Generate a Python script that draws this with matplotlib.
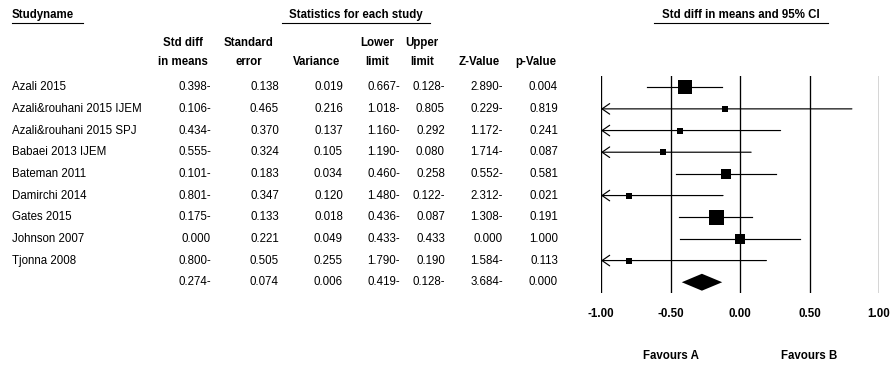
import numpy as np
import matplotlib.pyplot as plt
from matplotlib import font_manager
from matplotlib.lines import Line2D
from matplotlib.transforms import blended_transform_factory

studies = ['Azali 2015', 'Azali&rouhani 2015 IJEM', 'Azali&rouhani 2015 SPJ',
           'Babaei 2013 IJEM', 'Bateman 2011', 'Damirchi 2014', 'Gates 2015',
           'Johnson 2007', 'Tjonna 2008', '']
std_diff = [-0.398, -0.106, -0.434, -0.555, -0.101, -0.801, -0.175, 0.000, -0.800, -0.274]
std_err = [0.138, 0.465, 0.370, 0.324, 0.183, 0.347, 0.133, 0.221, 0.505, 0.074]
variance = [0.019, 0.216, 0.137, 0.105, 0.034, 0.120, 0.018, 0.049, 0.255, 0.006]
lower = [-0.667, -1.018, -1.160, -1.190, -0.460, -1.480, -0.436, -0.433, -1.790, -0.419]
upper = [-0.128, 0.805, 0.292, 0.080, 0.258, -0.122, 0.087, 0.433, 0.190, -0.128]
z_value = [-2.890, -0.229, -1.172, -1.714, -0.552, -2.312, -1.308, 0.000, -1.584, -3.684]
p_value = [0.004, 0.819, 0.241, 0.087, 0.581, 0.021, 0.191, 1.000, 0.113, 0.000]
x_ticks = [-1.0, -0.5, 0.0, 0.5, 1.0]

names = {f.name for f in font_manager.fontManager.ttflist}
if 'Liberation Sans Narrow' in names:
    FONT, FS = 'Liberation Sans Narrow', 9.5
else:
    FONT, FS = 'Liberation Sans', 8.3
plt.rcParams['font.family'] = [FONT, 'DejaVu Sans']

W, H = 891, 365
fig = plt.figure(figsize=(W / 100, H / 100), dpi=100)


def fx(x):
    return x / W


def fy(y):
    return 1 - y / H


def fmt(v):
    # the source software prints negatives with a trailing minus
    return f'{abs(v):.3f}' + ('-' if v < 0 else '')


n = len(studies)
row_h = 21.67
top = 87.2 - row_h / 2
ax = fig.add_axes([fx(601), fy(top + n * row_h), fx(879) - fx(601), n * row_h / H])
ax.set_xlim(-1, 1)
ax.set_ylim(n - 0.5, -0.5)
for s in ax.spines.values():
    s.set_visible(False)
ax.set_yticks([])
ax.set_xticks(x_ticks)
ax.set_xticklabels([f'{t:.2f}' for t in x_ticks], fontweight='bold', fontsize=FS)
ax.tick_params(axis='x', length=0, pad=10.5)

for t in x_ticks:
    ax.axvline(t, color='black', lw=0.95)

# study rows: CI line (arrow when clipped at -1) and weight-scaled square
w = 1 / np.array(variance[:-1])
sides = np.maximum(15 * np.sqrt(w / w.max()), 5.3)
for i in range(n - 1):
    lo = lower[i]
    if lo < -1:
        ax.annotate('', xy=(-1, i), xytext=(upper[i], i),
                    arrowprops=dict(arrowstyle='->,head_length=0.55,head_width=0.38',
                                    lw=0.85, color='black', shrinkA=0, shrinkB=0))
    else:
        ax.plot([lo, upper[i]], [i, i], color='black', lw=0.85, clip_on=False)
    ax.plot(std_diff[i], i, marker='s', color='black', markersize=sides[i] * 0.72,
            markeredgewidth=0, clip_on=False)

# summary diamond
k = n - 1
hh = 0.39
ax.fill([lower[k], std_diff[k], upper[k], std_diff[k]], [k, k - hh, k, k + hh],
        color='black', lw=0, clip_on=False)

# favours labels
tb = blended_transform_factory(ax.transData, fig.transFigure)
ax.text(-0.5, fy(356), 'Favours A', transform=tb, ha='center', va='center',
        fontweight='bold', fontsize=FS)
ax.text(0.5, fy(356), 'Favours B', transform=tb, ha='center', va='center',
        fontweight='bold', fontsize=FS)

# table
tr = blended_transform_factory(fig.transFigure, ax.transData)
cols = [std_diff, std_err, variance, lower, upper, z_value, p_value]
col_right = [211, 279, 343, 400, 445, 503, 558]
for i in range(n):
    fig.text(fx(12), i, studies[i], transform=tr, ha='left', va='center', fontsize=FS)
    for c, xr in zip(cols, col_right):
        fig.text(fx(xr), i, fmt(c[i]), transform=tr, ha='right', va='center', fontsize=FS)

headers = [('Std diff', 'in means', 183), ('Standard', 'error', 249), ('', 'Variance', 317),
           ('Lower', 'limit', 377), ('Upper', 'limit', 422), ('', 'Z-Value', 479),
           ('', 'p-Value', 536)]
for l1, l2, xc in headers:
    if l1:
        fig.text(fx(xc), fy(43), l1, ha='center', va='center', fontweight='bold', fontsize=FS)
    fig.text(fx(xc), fy(62), l2, ha='center', va='center', fontweight='bold', fontsize=FS)

titles = [('Studyname', 12, 83, 'left'), ('Statistics for each study', 282, 430, 'center'),
          ('Std diff in means and 95% CI', 654, 828, 'center')]
for txt, x0, x1, ha in titles:
    xt = x0 if ha == 'left' else (x0 + x1) / 2
    fig.text(fx(xt), fy(15), txt, ha=ha, va='center', fontweight='bold', fontsize=FS)
    fig.add_artist(Line2D([fx(x0), fx(x1)], [fy(23), fy(23)], color='black', lw=0.8))

fig.savefig('out.png', dpi=100, facecolor='white')
